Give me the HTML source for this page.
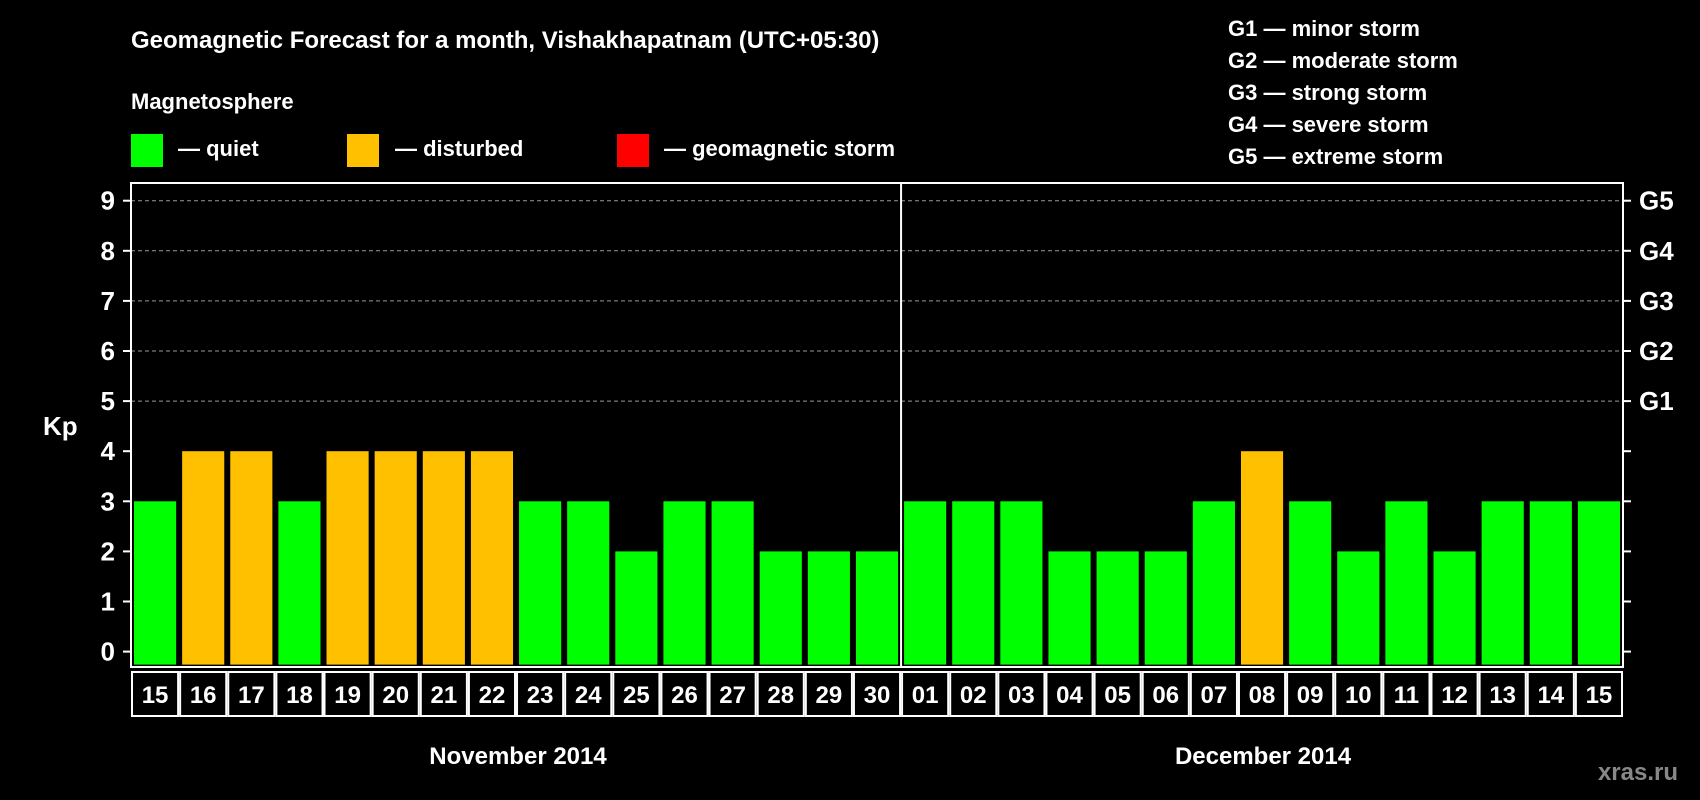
<!DOCTYPE html>
<html><head><meta charset="utf-8"><style>
html,body{margin:0;padding:0;background:#000;}
svg{display:block;font-family:"Liberation Sans",sans-serif;font-weight:bold;}
</style></head><body>
<svg id="chart" width="1700" height="800" viewBox="0 0 1700 800">
<rect x="0" y="0" width="1700" height="800" fill="#000"/>
<text x="131" y="48" fill="#fff" font-size="24">Geomagnetic Forecast for a month, Vishakhapatnam (UTC+05:30)</text>
<text x="131" y="109" fill="#fff" font-size="22">Magnetosphere</text>
<g><rect x="131" y="134" width="32" height="33" fill="#00ff00"/><text x="178" y="156" fill="#fff" font-size="22">— quiet</text></g>
<g><rect x="347" y="134" width="32" height="33" fill="#ffc000"/><text x="395" y="156" fill="#fff" font-size="22">— disturbed</text></g>
<g><rect x="617" y="134" width="32" height="33" fill="#ff0000"/><text x="664" y="156" fill="#fff" font-size="22">— geomagnetic storm</text></g>
<g fill="#fff" font-size="22">
<text x="1228" y="36">G1 — minor storm</text>
<text x="1228" y="68">G2 — moderate storm</text>
<text x="1228" y="100">G3 — strong storm</text>
<text x="1228" y="132">G4 — severe storm</text>
<text x="1228" y="164">G5 — extreme storm</text>
</g>
<text x="43" y="435" fill="#fff" font-size="26">Kp</text>
<g id="plot"></g>
<text x="518" y="764" fill="#fff" font-size="24" text-anchor="middle">November 2014</text>
<text x="1263" y="764" fill="#fff" font-size="24" text-anchor="middle">December 2014</text>
<text x="1678" y="780" fill="#888" font-size="24" text-anchor="end">xras.ru</text>
</svg>
<script>
const days = ["15","16","17","18","19","20","21","22","23","24","25","26","27","28","29","30","01","02","03","04","05","06","07","08","09","10","11","12","13","14","15"];
const kpValues = [3,4,4,3,4,4,4,4,3,3,2,3,3,2,2,2,3,3,3,2,2,2,3,4,3,2,3,2,3,3,3];
const yTicks = [0,1,2,3,4,5,6,7,8,9];
const gLabels = ["G1","G2","G3","G4","G5"];
const gLevels = [5,6,7,8,9];

const NS="http://www.w3.org/2000/svg";
const g=document.getElementById('plot');
const L=131,R=1623,T=183,B=667;
const y0=651.6,unit=50.1;
const y=v=>y0-v*unit;
const slot=(R-L)/days.length;
const x=i=>L+i*slot;
function mk(tag,attrs){const e=document.createElementNS(NS,tag);for(const k in attrs)e.setAttribute(k,attrs[k]);g.appendChild(e);return e;}
const color=v=>v>=5?"#ff0000":(v>=4?"#ffc000":"#00ff00");

gLevels.forEach(v=>{
  const l=mk('line',{x1:L,x2:R,y1:y(v),y2:y(v),stroke:"#999","stroke-dasharray":"4,3","stroke-width":1});
  
  
});
kpValues.forEach((v,i)=>{
  const r=mk('rect',{x:x(i)+3,y:y(v),width:slot-6,height:y(0)-y(v)+13,fill:color(v)});
  
  
});
const frame=mk('rect',{x:L,y:T,width:R-L,height:B-T,fill:"none",stroke:"#fff","stroke-width":2});


const div=mk('line',{x1:x(16),x2:x(16),y1:T,y2:B,stroke:"#fff","stroke-width":2});


yTicks.forEach(v=>{
  mk('line',{x1:L-8,x2:L,y1:y(v),y2:y(v),stroke:"#fff","stroke-width":2});
  mk('line',{x1:R,x2:R+8,y1:y(v),y2:y(v),stroke:"#fff","stroke-width":2});
  const t=mk('text',{x:L-16,y:y(v)+9,fill:"#fff","font-size":26,"text-anchor":"end"});
  t.textContent=v;
  
  
});
gLabels.forEach((s,i)=>{
  const t=mk('text',{x:R+16,y:y(gLevels[i])+9,fill:"#fff","font-size":26});
  t.textContent=s;
  
  
});
days.forEach((d,i)=>{
  const c=mk('rect',{x:x(i)+1,y:672,width:slot-2,height:44,fill:"#000",stroke:"#fff","stroke-width":2});
  
  
  const t=mk('text',{x:x(i)+slot/2,y:703,fill:"#fff","font-size":24,"text-anchor":"middle"});
  t.textContent=d;
  
  
});
</script>
</body></html>
